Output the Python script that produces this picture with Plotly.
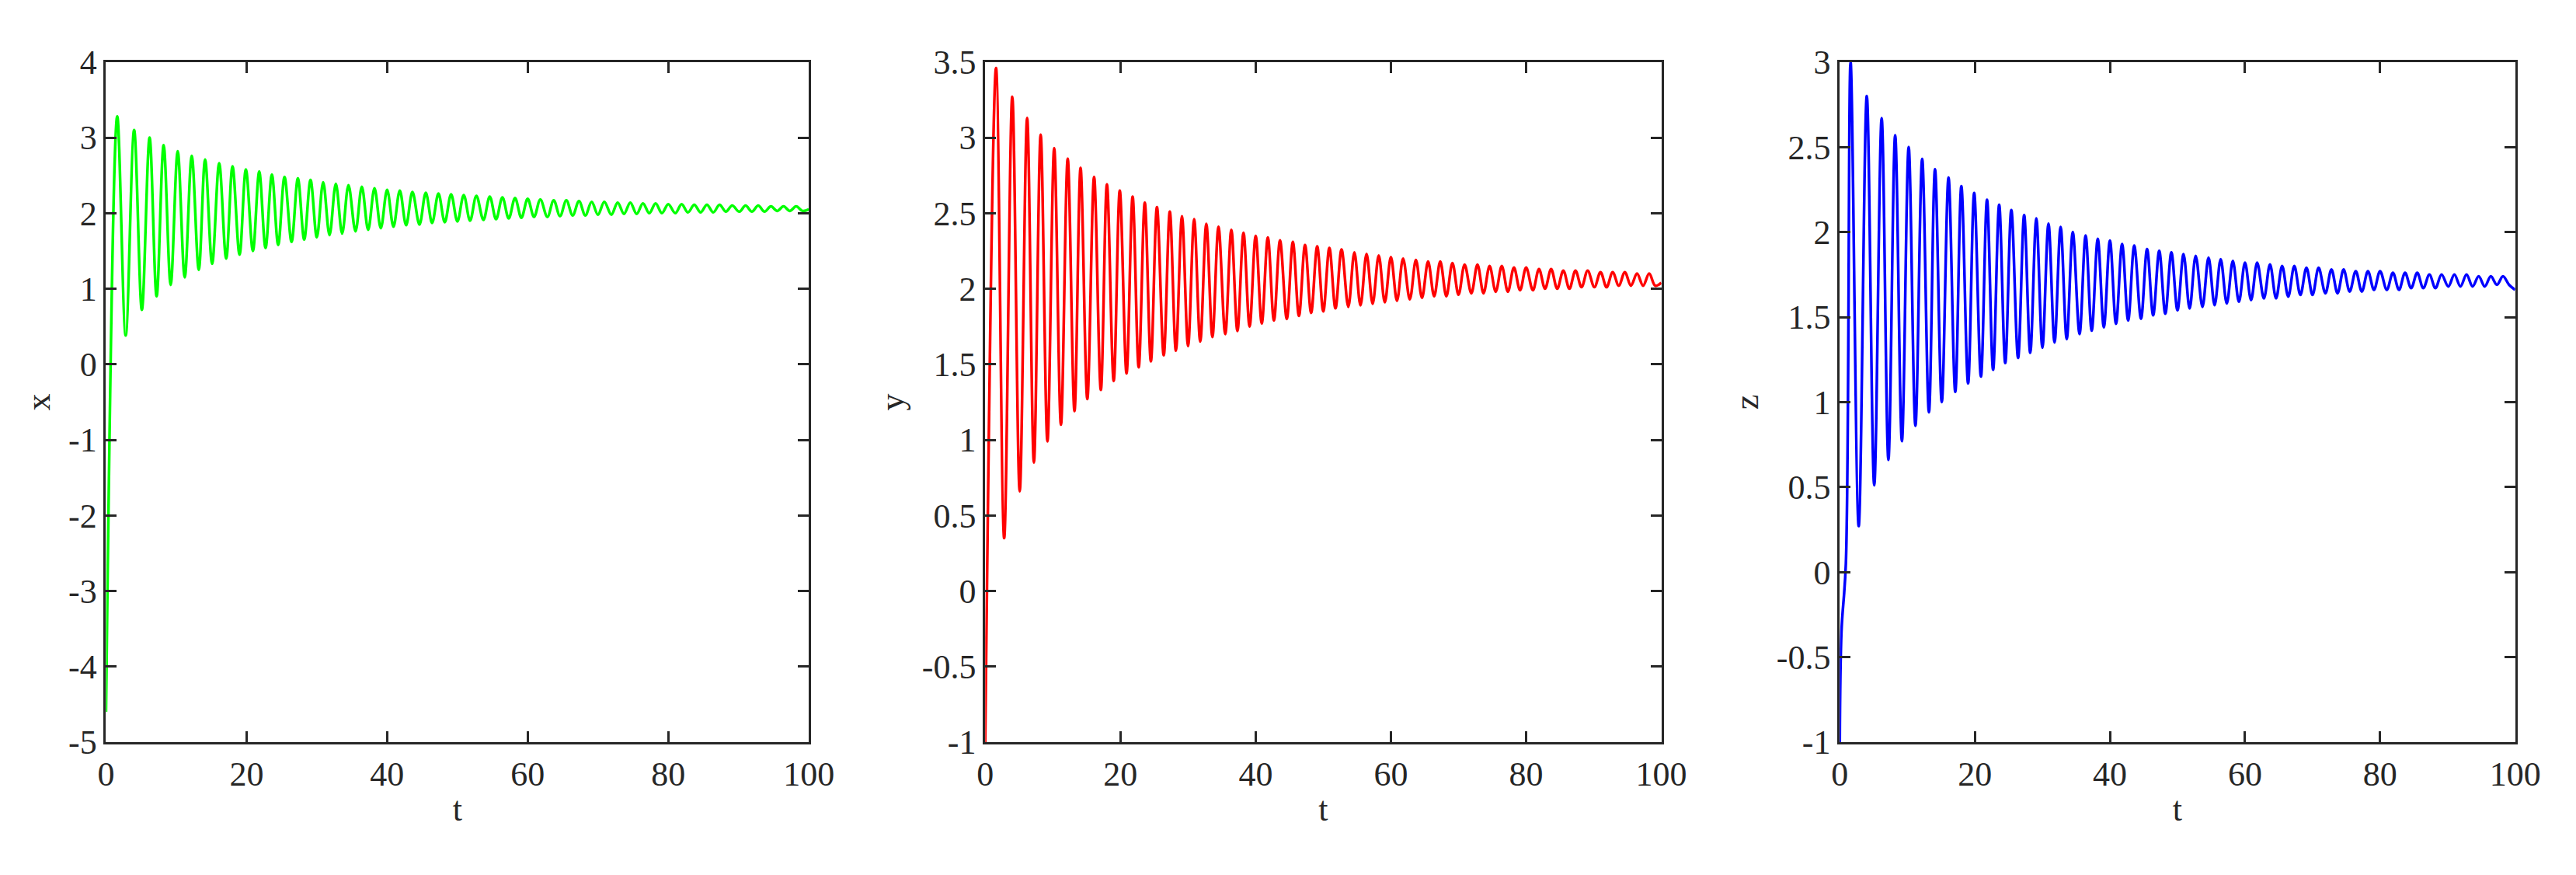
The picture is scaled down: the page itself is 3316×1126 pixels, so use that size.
import plotly.graph_objects as go

# extrema times shared by all three state variables
PEAK_T = [1.6, 4.0, 6.2, 8.2, 10.2, 12.2, 14.1, 16.1, 18.0, 19.9, 21.8, 23.6, 25.4, 27.3,
          29.1, 30.9, 32.7, 34.5, 36.4, 38.2, 40.0, 41.8, 43.6, 45.5, 47.3, 49.1, 50.9,
          52.7, 54.6, 56.4, 58.2, 60.0, 61.8, 63.7, 65.5, 67.3, 69.1, 70.9, 72.8, 74.6,
          76.4, 78.2, 80.0, 81.9, 83.7, 85.5, 87.3, 89.1, 91.0, 92.8, 94.6, 96.4, 98.2]
TROUGH_T = [2.8, 5.1, 7.2, 9.2, 11.2, 13.2, 15.1, 17.1, 19.0, 20.9, 22.7, 24.5, 26.4, 28.2,
            30.0, 31.8, 33.6, 35.5, 37.3, 39.1, 40.9, 42.7, 44.6, 46.4, 48.2, 50.0, 51.8,
            53.7, 55.5, 57.3, 59.1, 60.9, 62.8, 64.6, 66.4, 68.2, 70.0, 71.9, 73.7, 75.5,
            77.3, 79.1, 81.0, 82.8, 84.6, 86.4, 88.2, 90.1, 91.9, 93.7, 95.5, 97.3, 99.1]

X_START_T, X_START = [0.0], [-4.6]
X_PEAK = [3.28, 3.10, 3.00, 2.90, 2.82, 2.76, 2.71, 2.66, 2.62, 2.58, 2.55, 2.51, 2.48, 2.46,
          2.44, 2.41, 2.39, 2.37, 2.35, 2.33, 2.31, 2.30, 2.28, 2.27, 2.26, 2.25, 2.24, 2.23,
          2.22, 2.21, 2.20, 2.19, 2.18, 2.17, 2.17, 2.16, 2.15, 2.15, 2.14, 2.14, 2.13, 2.13,
          2.12, 2.12, 2.11, 2.11, 2.11, 2.10, 2.10, 2.10, 2.09, 2.09, 2.09]
X_TROUGH = [0.38, 0.72, 0.90, 1.05, 1.15, 1.25, 1.33, 1.40, 1.45, 1.50, 1.54, 1.58, 1.62, 1.65,
            1.68, 1.71, 1.73, 1.76, 1.78, 1.80, 1.82, 1.84, 1.85, 1.87, 1.88, 1.89, 1.90, 1.91,
            1.92, 1.93, 1.94, 1.95, 1.95, 1.96, 1.97, 1.97, 1.98, 1.98, 1.99, 1.99, 2.00, 2.00,
            2.00, 2.01, 2.01, 2.01, 2.02, 2.02, 2.02, 2.02, 2.03, 2.03, 2.03]
X_END = 2.05
X_TICKS = [-5, -4, -3, -2, -1, 0, 1, 2, 3, 4]

Y_START_T, Y_START = [0.0], [-1.0]
Y_PEAK = [3.46, 3.27, 3.13, 3.02, 2.93, 2.86, 2.80, 2.74, 2.69, 2.65, 2.61, 2.57, 2.54, 2.51,
          2.48, 2.46, 2.43, 2.41, 2.39, 2.37, 2.35, 2.34, 2.32, 2.31, 2.29, 2.28, 2.27, 2.26,
          2.24, 2.23, 2.22, 2.21, 2.20, 2.19, 2.18, 2.18, 2.17, 2.16, 2.16, 2.15, 2.15, 2.14,
          2.14, 2.13, 2.13, 2.12, 2.12, 2.12, 2.11, 2.11, 2.11, 2.10, 2.10]
Y_TROUGH = [0.35, 0.66, 0.85, 0.99, 1.10, 1.19, 1.27, 1.33, 1.39, 1.44, 1.48, 1.52, 1.56, 1.59,
            1.62, 1.65, 1.68, 1.70, 1.72, 1.75, 1.77, 1.79, 1.80, 1.82, 1.84, 1.85, 1.87, 1.88,
            1.89, 1.90, 1.91, 1.92, 1.93, 1.94, 1.95, 1.95, 1.96, 1.97, 1.97, 1.98, 1.98, 1.99,
            1.99, 2.00, 2.00, 2.00, 2.01, 2.01, 2.01, 2.02, 2.02, 2.02, 2.02]
Y_END = 2.04
Y_TICKS = [-1, -0.5, 0, 0.5, 1, 1.5, 2, 2.5, 3, 3.5]

Z_START_T, Z_START = [0.0, 0.25, 0.9], [-1.0, -0.35, 0.05]
Z_PEAK = [3.00, 2.80, 2.67, 2.57, 2.50, 2.43, 2.37, 2.32, 2.27, 2.23, 2.19, 2.16, 2.13, 2.10,
          2.08, 2.05, 2.03, 2.00, 1.98, 1.96, 1.95, 1.93, 1.92, 1.90, 1.89, 1.88, 1.87, 1.86,
          1.85, 1.84, 1.83, 1.82, 1.82, 1.81, 1.80, 1.80, 1.79, 1.79, 1.78, 1.78, 1.77, 1.77,
          1.77, 1.76, 1.76, 1.76, 1.75, 1.75, 1.75, 1.75, 1.74, 1.74, 1.74]
Z_TROUGH = [0.27, 0.51, 0.66, 0.77, 0.86, 0.94, 1.00, 1.06, 1.11, 1.15, 1.19, 1.23, 1.26, 1.29,
            1.32, 1.35, 1.37, 1.40, 1.42, 1.44, 1.46, 1.48, 1.49, 1.51, 1.52, 1.54, 1.55, 1.56,
            1.57, 1.58, 1.59, 1.60, 1.61, 1.61, 1.62, 1.63, 1.63, 1.64, 1.64, 1.65, 1.65, 1.66,
            1.66, 1.66, 1.67, 1.67, 1.67, 1.68, 1.68, 1.68, 1.68, 1.69, 1.69]
Z_END = 1.66
Z_TICKS = [-1, -0.5, 0, 0.5, 1, 1.5, 2, 2.5, 3]

T_TICKS = [0, 20, 40, 60, 80, 100]
T_END = 100.0


def build(start_t, start_v, peaks, troughs, end_v):
    t, v = list(start_t), list(start_v)
    for pt, pv, tt, tv in zip(PEAK_T, peaks, TROUGH_T, troughs):
        t += [pt, tt]
        v += [pv, tv]
    t.append(T_END)
    v.append(end_v)
    return t, v


def label(v):
    # MATLAB-style labels with a plain hyphen for negatives
    return f"{v:g}"


panels = [
    ("x", "#00ff00", build(X_START_T, X_START, X_PEAK, X_TROUGH, X_END), [-5, 4], X_TICKS, [0.0359, 0.3124]),
    ("y", "#ff0000", build(Y_START_T, Y_START, Y_PEAK, Y_TROUGH, Y_END), [-1, 3.5], Y_TICKS, [0.3818, 0.6478]),
    ("z", "#0000ff", build(Z_START_T, Z_START, Z_PEAK, Z_TROUGH, Z_END), [-1, 3], Z_TICKS, [0.7180, 0.9837]),
]

fig = go.Figure()
axis_col = "#262626"
font = dict(family="Liberation Serif", size=44, color=axis_col)

for i, (name, color, (t, v), yr, yt, dom) in enumerate(panels, start=1):
    sfx = "" if i == 1 else str(i)
    fig.add_trace(go.Scatter(
        x=t, y=v, mode="lines", xaxis="x" + sfx, yaxis="y" + sfx,
        line=dict(color=color, width=3.5, shape="spline", smoothing=1.0),
        showlegend=False,
    ))
    common = dict(showline=True, mirror="ticks", linecolor=axis_col, linewidth=3,
                  ticks="inside", ticklen=14, tickwidth=3, tickcolor=axis_col,
                  showgrid=False, zeroline=False, tickfont=font)
    fig.layout["xaxis" + sfx] = dict(
        domain=dom, range=[0, 100], anchor="y" + sfx,
        tickmode="array", tickvals=T_TICKS, ticktext=[label(k) for k in T_TICKS],
        title=dict(text="t", font=font, standoff=6), **common)
    fig.layout["yaxis" + sfx] = dict(
        domain=[0.143, 0.9556], range=yr, anchor="x" + sfx,
        tickmode="array", tickvals=yt, ticktext=[label(k) for k in yt],
        title=dict(text=name, font=font, standoff=10), **common)

fig.update_layout(
    width=3316, height=1126,
    margin=dict(l=0, r=0, t=0, b=0),
    paper_bgcolor="white", plot_bgcolor="white",
)

fig.write_html("out.html")
